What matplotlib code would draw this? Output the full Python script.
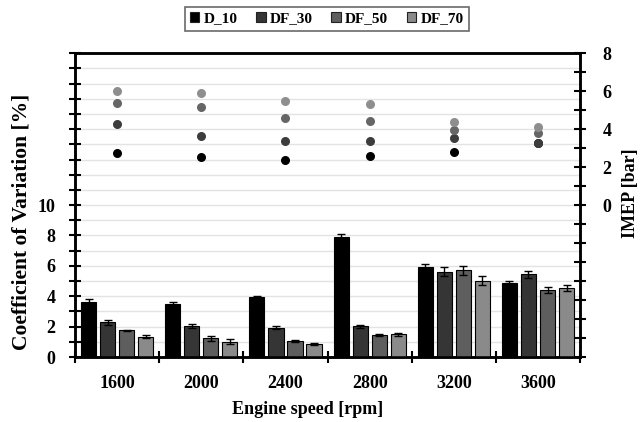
import numpy as np
import matplotlib.pyplot as plt
from matplotlib.patches import Patch
from matplotlib.ticker import MultipleLocator, FixedLocator

plt.rcParams['font.family'] = ['Liberation Serif', 'DejaVu Serif']
plt.rcParams['font.weight'] = 'bold'

speeds = ['1600', '2000', '2400', '2800', '3200', '3600']
fuels = ['D_10', 'DF_30', 'DF_50', 'DF_70']

# CoV of IMEP [%]
cov = {
    'D_10':  [3.60, 3.47, 3.93, 7.92, 5.90, 4.85],
    'DF_30': [2.28, 2.04, 1.93, 2.04, 5.61, 5.44],
    'DF_50': [1.77, 1.23, 1.07, 1.45, 5.70, 4.43],
    'DF_70': [1.34, 1.01, 0.86, 1.49, 5.02, 4.52],
}
cov_err = {
    'D_10':  [0.20, 0.12, 0.10, 0.20, 0.20, 0.15],
    'DF_30': [0.15, 0.12, 0.08, 0.10, 0.30, 0.25],
    'DF_50': [0.04, 0.15, 0.06, 0.07, 0.30, 0.20],
    'DF_70': [0.10, 0.15, 0.05, 0.10, 0.30, 0.20],
}
# IMEP [bar]
imep = {
    'D_10':  [2.75, 2.53, 2.37, 2.56, 2.81, 3.25],
    'DF_30': [4.26, 3.65, 3.40, 3.40, 3.54, 3.28],
    'DF_50': [5.35, 5.14, 4.56, 4.42, 3.93, 3.77],
    'DF_70': [6.02, 5.88, 5.47, 5.30, 4.39, 4.12],
}

bar_colors = ['#000000', '#353535', '#5e5e5e', '#8a8a8a']
dot_colors = ['#000000', '#3c3c3c', '#666666', '#8e8e8e']

fig = plt.figure(figsize=(6.41, 4.22), dpi=100)
ax = fig.add_axes([0.117, 0.154, 0.788, 0.720])
ax2 = ax.twinx()

x = np.arange(len(speeds))
step = 0.226
width = 0.18
for i, f in enumerate(fuels):
    ax.bar(x + (i - 1.5) * step, cov[f], width, color=bar_colors[i],
           edgecolor='black', linewidth=0.8, zorder=3,
           yerr=cov_err[f], error_kw=dict(ecolor='black', elinewidth=1, capsize=3, capthick=1))

for i, f in enumerate(fuels):
    ax2.scatter(x, imep[f], s=30, color=dot_colors[i], zorder=4 + i)

ax.set_xlim(-0.5, len(speeds) - 0.5)
ax.set_ylim(0, 20)
ax2.set_ylim(-8, 8)

ax.set_xticks(x)
ax.set_xticklabels(speeds, fontsize=13, fontweight='bold')
ax.xaxis.set_minor_locator(FixedLocator(np.arange(-0.5, len(speeds), 1.0)))
ax.tick_params(axis='x', which='major', length=0, pad=13)
ax.tick_params(axis='x', which='minor', direction='inout', length=8, width=1.5)

ax.yaxis.set_major_locator(FixedLocator([0, 2, 4, 6, 8, 10]))
ax.yaxis.set_minor_locator(MultipleLocator(1))
ax.tick_params(axis='y', which='both', direction='inout', length=8, width=1.5, labelsize=13, pad=10)
ax.set_yticklabels(['0', '2', '4', '6', '8', '10'], fontweight='bold')

ax2.yaxis.set_major_locator(FixedLocator([0, 2, 4, 6, 8]))
ax2.yaxis.set_minor_locator(MultipleLocator(1))
ax2.tick_params(axis='y', which='both', direction='inout', length=8, width=1.5, labelsize=13, pad=12)
ax2.set_yticklabels(['0', '2', '4', '6', '8'], fontweight='bold')

ax.grid(axis='y', which='both', color='#e3e3e3', linewidth=1, zorder=0)
ax.set_axisbelow(True)

for a in (ax, ax2):
    for s in a.spines.values():
        s.set_linewidth(1.8)

ax.set_ylabel('Coefficient of Variation [%]', fontsize=15.5, fontweight='bold')
ax.yaxis.set_label_coords(-0.087, 0.444)
ax2.set_ylabel('IMEP [bar]', fontsize=13, fontweight='bold')
ax2.yaxis.set_label_coords(1.082, 0.54)
ax.set_xlabel('Engine speed [rpm]', fontsize=13, fontweight='bold')
ax.xaxis.set_label_coords(0.46, -0.145)

handles = [Patch(facecolor=c, edgecolor='#222222', linewidth=0.8) for c in bar_colors]
leg = fig.legend(handles, fuels, loc='center', bbox_to_anchor=(0.51, 0.955), ncol=4,
                 frameon=True, fancybox=False, edgecolor='#444444',
                 handlelength=0.6, handleheight=0.6, handletextpad=0.3, columnspacing=1.2,
                 prop={'family': 'Liberation Serif', 'weight': 'bold', 'size': 11},
                 borderpad=0.35)
leg.get_frame().set_linewidth(1.2)

fig.savefig('out.png', dpi=100)
